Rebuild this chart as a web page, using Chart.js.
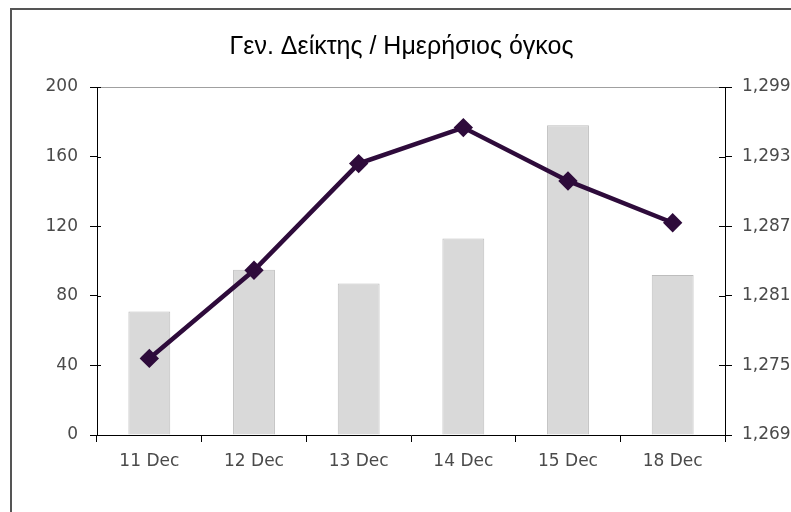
<!DOCTYPE html>
<html>
<head>
<meta charset="utf-8">
<script src="https://cdn.jsdelivr.net/npm/chart.js@4"></script>
<style>
  html, body { margin: 0; padding: 0; background: #fff; }
  canvas { display: block; }
</style>
</head>
<body>
<canvas id="chart" width="791" height="512"></canvas>
<script>
// data
const days = ['11 Dec', '12 Dec', '13 Dec', '14 Dec', '15 Dec', '18 Dec'];
const volume = [71, 95, 87, 113, 178, 92];          // bars, left axis
const index = [1275.6, 1283.2, 1292.4, 1295.5, 1290.9, 1287.3]; // line, right axis
const leftTicks = [0, 40, 80, 120, 160, 200];
const rightTicks = [1269, 1275, 1281, 1287, 1293, 1299];

const tickFont = { family: 'DejaVu Sans', size: 17 };
const tickColor = '#4a4a4a';

// frame around the whole chart + top edge of plot + inner half of the ticks
const extras = {
    id: 'extras',
    beforeDraw(chart) {
        const c = chart.ctx;
        c.save();
        c.fillStyle = '#fff';
        c.fillRect(0, 0, chart.width, chart.height);
        c.strokeStyle = '#555';
        c.lineWidth = 2;
        c.strokeRect(11, 9, chart.width + 10, chart.height + 10);
        c.restore();
    },
    afterDraw(chart) {
        const c = chart.ctx;
        const a = chart.chartArea;
        c.save();
        c.strokeStyle = '#a0a0a0';
        c.lineWidth = 1;
        c.beginPath();
        c.moveTo(a.left, a.top + 0.5);
        c.lineTo(a.right, a.top + 0.5);
        c.stroke();
        c.strokeStyle = '#000';
        c.beginPath();
        chart.scales.y.ticks.forEach(t => {
            const py = Math.round(chart.scales.y.getPixelForValue(t.value)) + 0.5;
            c.moveTo(a.left, py);
            c.lineTo(a.left + 4, py);
        });
        chart.scales.y1.ticks.forEach(t => {
            const py = Math.round(chart.scales.y1.getPixelForValue(t.value)) + 0.5;
            c.moveTo(a.right - 6, py);
            c.lineTo(a.right, py);
        });
        c.stroke();
        c.restore();
    }
};

new Chart(document.getElementById('chart'), {
    type: 'bar',
    data: {
        labels: days,
        datasets: [
            {
                type: 'line',
                data: index,
                yAxisID: 'y1',
                order: 0,
                borderColor: '#2e0b3b',
                backgroundColor: '#2e0b3b',
                borderWidth: 4.5,
                tension: 0,
                pointStyle: 'rectRot',
                pointRadius: 6.5,
                pointBackgroundColor: '#2e0b3b',
                pointBorderColor: '#2e0b3b'
            },
            {
                type: 'bar',
                data: volume,
                yAxisID: 'y',
                order: 1,
                backgroundColor: '#d9d9d9',
                borderColor: '#bdbdbd',
                borderWidth: 1,
                categoryPercentage: 1,
                barPercentage: 0.4
            }
        ]
    },
    options: {
        responsive: false,
        animation: false,
        layout: { padding: { left: 12, top: 10, right: 0, bottom: 0 } },
        plugins: {
            legend: { display: false },
            tooltip: { enabled: false },
            title: {
                display: true,
                text: 'Γεν. Δείκτης / Ημερήσιος όγκος',
                color: '#000',
                font: { family: 'Liberation Sans', size: 25, weight: 'normal' },
                padding: { top: 22, bottom: 25 }
            }
        },
        scales: {
            x: {
                offset: true,
                grid: { offset: true, drawOnChartArea: false, tickLength: 7, color: '#000' },
                border: { color: '#000' },
                ticks: { font: tickFont, color: tickColor, padding: 9, maxRotation: 0 },
                afterFit(s) { s.height = 77; }
            },
            y: {
                position: 'left',
                min: 0,
                max: 200,
                afterBuildTicks(s) { s.ticks = leftTicks.map(v => ({ value: v })); },
                grid: { drawOnChartArea: false, tickLength: 7, color: '#000' },
                border: { color: '#000' },
                ticks: { font: tickFont, color: tickColor, padding: 12 },
                afterFit(s) { s.width = 85; }
            },
            y1: {
                position: 'right',
                min: 1269,
                max: 1299,
                afterBuildTicks(s) { s.ticks = rightTicks.map(v => ({ value: v })); },
                grid: { drawOnChartArea: false, tickLength: 7, color: '#000' },
                border: { color: '#000' },
                ticks: { font: tickFont, color: tickColor, padding: 10 },
                afterFit(s) { s.width = 66; }
            }
        }
    },
    plugins: [extras]
});
</script>
</body>
</html>
